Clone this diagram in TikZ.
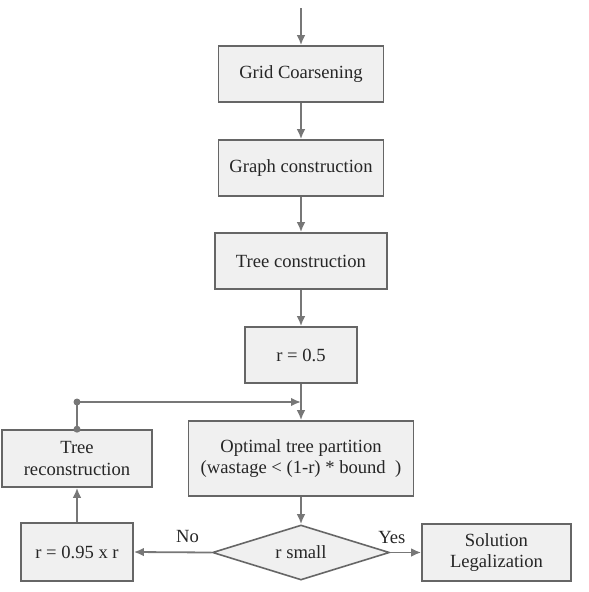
\documentclass[tikz,border=0pt]{standalone}
\usepackage{fontspec}
\setmainfont{Liberation Serif}
\usetikzlibrary{arrows.meta,shapes.geometric,positioning,calc}

\definecolor{boxfill}{HTML}{F0F0F0}
\definecolor{boxline}{HTML}{666666}
\definecolor{flowline}{HTML}{777777}
\definecolor{txt}{HTML}{262626}

\tikzset{
  stage/.style={draw=boxline, fill=boxfill, line width=1.6pt, rectangle, inner sep=0pt,
    align=center, text=txt, font=\fontsize{18.6}{21.5}\selectfont},
  test/.style={stage, diamond, aspect=3.2},
  flow/.style={draw=flowline, line width=1.8pt, -{Latex[length=10pt,width=8.5pt]}},
  dot/.style={circle, fill=flowline, inner sep=0pt, minimum size=7pt},
  tag/.style={text=txt, font=\fontsize{18.6}{21.5}\selectfont}
}

\begin{document}
\begin{tikzpicture}[x=1pt, y=-1pt]
      \useasboundingbox (0,0) rectangle (589,592);

      % Main chain
      \coordinate (start) at (301,8);
      \node[stage, minimum width=165pt, minimum height=56pt] (grid) at (301,74) {Grid Coarsening};
      \node[stage, minimum width=165pt, minimum height=56pt] (graph) at (301,168) {Graph construction};
      \node[stage, minimum width=172pt, minimum height=56pt] (tree) at (301,261) {Tree construction};
      \node[stage, minimum width=112pt, minimum height=56pt] (rinit) at (301,355) {r = 0.5};
      \node[stage, minimum width=225pt, minimum height=75pt] (part) at (301,458.5)
        {Optimal tree partition\\(wastage < (1-r) * bound~~)};
      \node[test, minimum width=177pt, minimum height=55pt] (small) at (301,552.5) {r small};

      % Side boxes
      \node[stage, minimum width=150pt, minimum height=57pt] (recon) at (77,458.5) {Tree\\reconstruction};
      \node[stage, minimum width=112pt, minimum height=58pt] (rscale) at (77,552) {r = 0.95 x r};
      \node[stage, minimum width=149pt, minimum height=57pt] (legal) at (496.5,552.5) {Solution\\Legalization};

      % Connections
      \draw[flow] (start) -- (grid);
      \foreach \a/\b in {grid/graph, graph/tree, tree/rinit, rinit/part, part/small}
        \draw[flow] (\a) -- (\b);

      \draw[flow] (small.west) -- node[tag, pos=0.31, above=5pt] {No} (rscale.east);
      \draw[flow] (small.east) -- node[tag, pos=0.05, above=5pt] {Yes} (legal.west);
      \draw[flow] (rscale) -- (recon);

      % Feedback loop
      \coordinate (merge) at (301,402);
      \node[dot] (d1) at (recon.north) {};
      \node[dot] (d2) at (77,402) {};
      \draw[flow] (recon.north) |- (merge);
\end{tikzpicture}
\end{document}
